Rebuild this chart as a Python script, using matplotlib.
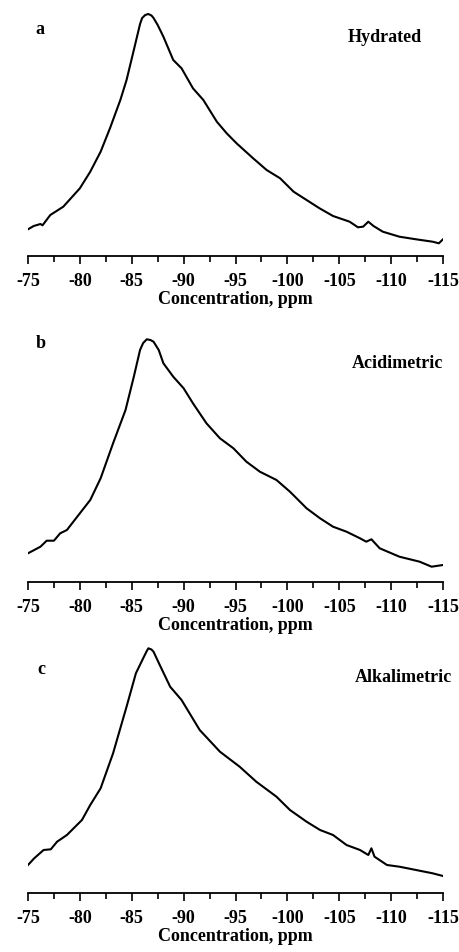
import numpy as np
import matplotlib.pyplot as plt
from matplotlib.ticker import MultipleLocator

plt.rcParams['font.family'] = ['Liberation Serif', 'DejaVu Serif']
plt.rcParams['axes.unicode_minus'] = False

# chemical shift (ppm) and signal height (arbitrary units)
hyd_ppm = [-75, -75.55, -76.2, -76.4, -77.15, -78.4, -80.0, -81.0, -82.0, -82.9,
           -83.9, -84.5, -85.2, -85.8, -86.0, -86.3, -86.6, -86.9, -87.1, -87.5,
           -88.05, -89.0, -89.8,
           -90.9, -91.9, -93.2, -94.15, -95.1, -96.7, -98.0, -99.3, -100.6, -101.85,
           -103.1, -104.4, -106.0, -106.8, -107.3, -107.8, -108.3, -109.2, -110.8,
           -112.4, -114.0, -114.6, -115]
hyd_int = [26.7, 30, 32, 30.7, 41, 49.3, 67.7, 84.3, 104.3, 127.7,
           156, 176, 206, 232, 238, 241, 242, 240.5, 238, 231,
           219.3, 196, 187.7,
           167.7, 156, 134.3, 122.7, 112.7, 97.7, 86, 77.7, 64.3, 56,
           47.7, 40, 34.3, 28.7, 29.3, 34.3, 30, 24.3, 19.3,
           16.7, 14.3, 12.7, 16.7]

acid_ppm = [-75, -76.2, -76.8, -77.5, -78.1, -78.75, -80.0, -81.0, -82.0, -83.2,
            -84.4, -85.2, -85.8, -86.1, -86.45, -86.8, -87.1, -87.6, -88.05, -89.0,
            -90.0, -90.9,
            -92.2, -93.5, -94.8, -96.05, -97.35, -98.95, -100.25, -101.85, -103.15,
            -104.4, -105.7, -107.0, -107.6, -108.1, -108.9, -110.8, -112.75, -113.9, -115]
acid_int = [28.7, 35.3, 41.3, 41.3, 48.7, 52, 68.7, 82, 103.7, 138.7,
            172, 205.3, 232, 239, 242.7, 242, 240.3, 232, 218.7, 205.3,
            193.7, 178.7,
            158.7, 143.7, 133.7, 120.3, 110.3, 102, 90.3, 73.7, 63.7,
            55.3, 50.3, 43.7, 40.3, 42.7, 33.7, 25.3, 20.3, 15.3, 17]

alk_ppm = [-75, -75.6, -76.5, -77.2, -77.8, -78.75, -80.2, -81.0, -82.0, -83.2,
           -84.5, -85.4, -86.1, -86.4, -86.6, -86.9, -87.1, -87.7, -88.7, -89.8,
           -91.55, -93.5,
           -95.4, -97.0, -98.95, -100.25, -101.85, -103.15, -104.4, -105.7, -107.0,
           -107.8, -108.1, -108.4, -109.6, -110.8, -112.4, -114.0, -115]
alk_int = [28, 34.7, 43, 43.7, 51.3, 58, 73, 88, 104.7, 139.7,
           186.3, 219.7, 234.7, 241, 244.7, 243.5, 241.3, 228, 206.3, 193,
           163, 141.3,
           126.3, 111.3, 96.3, 83, 71.3, 63, 58, 48, 43,
           38, 44.7, 36.3, 28, 26.3, 23, 19.7, 17]

panels = [('a', 'Hydrated', hyd_ppm, hyd_int),
          ('b', 'Acidimetric', acid_ppm, acid_int),
          ('c', 'Alkalimetric', alk_ppm, alk_int)]

ticks = list(range(-75, -116, -5))
tick_labels = [str(t) for t in ticks]

W, H = 460, 952
fig = plt.figure(figsize=(W / 100, H / 100), dpi=100)

# axis line pixel rows for each panel
axis_rows = [256, 582, 893]
name_pos = [(385, 37), (398, 363), (403, 678)]
letter_pos = [(40, 29), (41, 343), (41, 670)]

for k, (letter, name, ppm, inten) in enumerate(panels):
    y0 = axis_rows[k]
    ax = fig.add_axes([28 / W, 1 - y0 / H, 415 / W, 250 / H])
    ax.plot(ppm, inten, color='black', lw=1.5)
    ax.set_xlim(-75, -115)
    ax.set_ylim(0, 250)
    for s in ['top', 'right', 'left']:
        ax.spines[s].set_visible(False)
    ax.spines['bottom'].set_linewidth(1.3)
    ax.set_yticks([])
    ax.set_xticks(ticks)
    ax.set_xticklabels(tick_labels, fontsize=13, fontweight='bold')
    ax.xaxis.set_minor_locator(MultipleLocator(2.5))
    ax.tick_params(axis='x', which='major', length=6, width=1.2, pad=6)
    ax.tick_params(axis='x', which='minor', length=4.5, width=1.2)
    ax.set_xlabel('Concentration, ppm', fontsize=13, fontweight='bold', labelpad=1)
    ax.patch.set_visible(False)

    fig.text(letter_pos[k][0] / W, 1 - letter_pos[k][1] / H, letter,
             fontsize=13, fontweight='bold', ha='center', va='center')
    fig.text(name_pos[k][0] / W, 1 - name_pos[k][1] / H, name,
             fontsize=13, fontweight='bold', ha='center', va='center')

fig.savefig('out.png', dpi=100)
